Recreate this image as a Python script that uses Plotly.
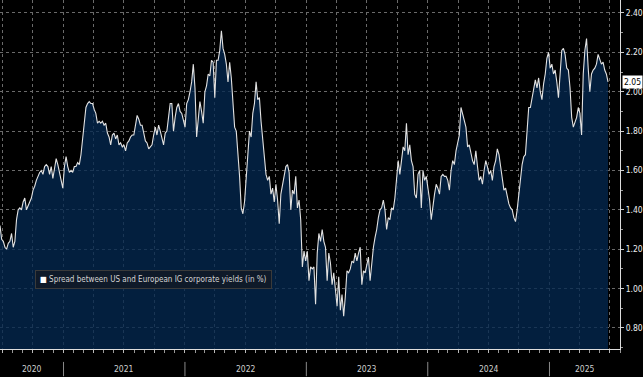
import pandas as pd
import plotly.graph_objects as go

# ---- data ----
series_name = "Spread between US and European IG corporate yields (in %)"
first_date = "2020-06-24"
last_date = "2025-06-26"
axis_start = "2020-06-24"
axis_end = "2025-08-01"

spread = [
    1.32, 1.25, 1.24, 1.21, 1.20, 1.23, 1.24, 1.28, 1.21, 1.24,
    1.35, 1.40, 1.41, 1.40, 1.44, 1.46, 1.40, 1.42, 1.44, 1.46,
    1.50, 1.52, 1.55, 1.57, 1.59, 1.60, 1.58, 1.62, 1.63, 1.62,
    1.58, 1.62, 1.56, 1.61, 1.66, 1.63, 1.59, 1.56, 1.51, 1.62,
    1.67, 1.62, 1.59, 1.60, 1.59, 1.62, 1.62, 1.64, 1.63, 1.68,
    1.76, 1.82, 1.92, 1.94, 1.95, 1.94, 1.94, 1.91, 1.89, 1.84,
    1.85, 1.84, 1.85, 1.83, 1.84, 1.79, 1.77, 1.73, 1.78, 1.79,
    1.76, 1.78, 1.73, 1.74, 1.72, 1.73, 1.70, 1.74, 1.75, 1.77,
    1.78, 1.78, 1.83, 1.88, 1.86, 1.83, 1.83, 1.78, 1.75, 1.74,
    1.71, 1.72, 1.73,
    1.78, 1.82, 1.78, 1.83, 1.80, 1.77, 1.73,
    1.79, 1.80, 1.87, 1.94, 1.94, 1.80, 1.87, 1.92, 1.94, 1.90,
    1.89, 1.85, 1.82, 1.94, 1.96, 2.00, 2.05, 2.14, 2.02, 1.77,
    1.85, 1.95, 1.90, 1.84, 2.00, 2.03, 2.09, 2.08, 2.16, 2.15,
    1.97, 2.16, 2.16, 2.21, 2.31, 2.22, 2.19, 2.14, 2.05, 2.15,
    2.07, 1.92, 1.82, 1.80, 1.70, 1.57, 1.41, 1.38, 1.44, 1.55,
    1.65, 1.80, 1.77, 1.89, 1.94, 2.05, 1.96, 1.97, 1.85, 1.75,
    1.65, 1.58, 1.55, 1.57, 1.48, 1.51, 1.44, 1.53, 1.45, 1.33,
    1.48, 1.53, 1.57, 1.62, 1.63, 1.59, 1.40, 1.50, 1.48, 1.57,
    1.41, 1.45, 1.35, 1.11, 1.19, 1.14,
    1.19, 1.04, 1.11, 1.10,
    1.11, 0.92, 1.18, 1.28, 1.24, 1.30, 1.24, 1.21, 1.04, 1.18,
    1.13, 1.02, 1.08, 1.01, 0.91, 1.06, 0.89, 0.97, 0.86, 0.96,
    1.09, 1.08, 1.10, 1.14, 1.13, 1.18, 1.14, 1.18, 1.21, 1.02,
    1.09, 1.08, 1.13, 1.16, 1.04, 1.14, 1.21, 1.26, 1.30, 1.36,
    1.40, 1.41, 1.45, 1.40, 1.30, 1.36, 1.35, 1.41, 1.40, 1.46,
    1.55, 1.65, 1.58, 1.65, 1.72, 1.70, 1.84, 1.68, 1.73, 1.65,
    1.62, 1.48, 1.46, 1.58, 1.60, 1.41, 1.60, 1.55, 1.57, 1.51,
    1.45, 1.35, 1.43, 1.48, 1.53, 1.51, 1.48, 1.57, 1.58, 1.57,
    1.57, 1.55, 1.50, 1.60, 1.65, 1.63, 1.70, 1.75, 1.78,
    1.92, 1.89, 1.85, 1.82, 1.72, 1.73, 1.69, 1.65, 1.63, 1.70, 1.62,
    1.55, 1.57, 1.53, 1.60, 1.65, 1.62, 1.58, 1.60, 1.55, 1.62,
    1.65, 1.71, 1.68, 1.62, 1.57, 1.50, 1.51, 1.46, 1.43, 1.41,
    1.40, 1.36, 1.34, 1.40, 1.48, 1.53, 1.63, 1.67, 1.68, 1.80,
    1.92, 1.92, 1.97, 2.02, 2.06, 2.02, 2.07, 2.00, 1.96, 2.04,
    2.09, 2.17, 2.20, 2.12, 2.14, 2.09, 2.11, 2.05, 1.97, 2.09,
    2.21, 2.22, 2.19, 2.12, 2.11, 2.02, 1.87, 1.82, 1.85, 1.87,
    1.92, 1.89, 1.78, 2.09, 2.21, 2.27, 2.12, 2.00, 2.09, 2.11,
    2.12, 2.14, 2.19, 2.16, 2.14, 2.15, 2.11, 2.09, 2.05,
]
years = [2020, 2021, 2022, 2023, 2024, 2025]
y_range = [0.693, 2.466]

dates = pd.date_range(first_date, last_date, periods=len(spread))

FONT = "DejaVu Sans Condensed, DejaVu Sans, sans-serif"

fig = go.Figure()
fig.add_trace(go.Scatter(
    x=dates, y=spread, mode="lines", name=series_name,
    line=dict(color="#e2e2e2", width=1.1),
    fill="tozeroy", fillcolor="rgba(4,40,80,0.78)",
    showlegend=False, hoverinfo="x+y",
))

# year labels centred on the visible part of each year, separators at year starts
a0, a1 = pd.Timestamp(axis_start), pd.Timestamp(axis_end)
annotations = []
shapes = []
for yr in years:
    s = max(pd.Timestamp(f"{yr}-01-01"), a0)
    e = min(pd.Timestamp(f"{yr + 1}-01-01"), a1)
    mid = s + (e - s) / 2
    annotations.append(dict(
        x=mid, y=-0.057, xref="x", yref="paper", text=str(yr),
        showarrow=False, font=dict(family=FONT, size=8.5, color="#cfcfcf"),
        xanchor="center", yanchor="middle",
    ))
    if pd.Timestamp(f"{yr}-01-01") > a0:
        shapes.append(dict(
            type="line", xref="x", yref="paper",
            x0=f"{yr}-01-01", x1=f"{yr}-01-01", y0=-0.037, y1=-0.078,
            line=dict(color="#8a8a8a", width=1),
        ))

# last-value tag on the right axis
annotations.append(dict(
    x=1, xref="paper", y=spread[-1], yref="y", xanchor="left", xshift=2,
    text=f"{spread[-1]:.2f}", showarrow=False,
    bgcolor="white", font=dict(family=FONT, size=8.5, color="black"),
    borderpad=1,
))

# legend box (white square + series name)
annotations.append(dict(
    x=0.056, y=0.226, xref="paper", yref="paper", xanchor="left", yanchor="top",
    text="<span style='color:white'>■</span> " + series_name,
    showarrow=False, align="left",
    font=dict(family=FONT, size=8, color="#d4d4d4"),
    bgcolor="rgba(16,26,40,0.95)", bordercolor="#3a3a3a", borderwidth=1,
    borderpad=4,
))

fig.update_layout(
    width=643, height=377,
    margin=dict(l=0, r=20, t=0, b=28),
    paper_bgcolor="black", plot_bgcolor="black",
    font=dict(family=FONT, size=9, color="#e0e0e0"),
    showlegend=False,
    xaxis=dict(
        type="date", range=[axis_start, axis_end],
        showgrid=True, gridcolor="#6a6a6a", griddash="dot", gridwidth=1,
        tick0="2020-07-01", dtick="M3",
        ticks="outside", ticklen=3, tickcolor="#bbbbbb",
        showticklabels=False,
        showline=True, linecolor="#dddddd", linewidth=1,
        zeroline=False,
        minor=dict(dtick="M1", ticks="outside", ticklen=3,
                   tickcolor="#999999", showgrid=False),
    ),
    yaxis=dict(
        side="right", range=y_range,
        tick0=0, dtick=0.2, tickformat=".2f",
        showgrid=True, gridcolor="#6a6a6a", griddash="dot", gridwidth=1,
        ticks="outside", ticklen=3, tickcolor="#cccccc",
        tickfont=dict(family=FONT, size=8.5, color="#eeeeee"),
        showline=True, linecolor="#dddddd", linewidth=1,
        zeroline=False,
        minor=dict(dtick=0.1, ticks="outside", ticklen=2,
                   tickcolor="#999999", showgrid=False),
    ),
    annotations=annotations,
    shapes=shapes,
)

fig.write_html(
    "out.html",
    config={"displayModeBar": False},
    post_script="document.body.style.margin='0';document.body.style.background='black';",
)
